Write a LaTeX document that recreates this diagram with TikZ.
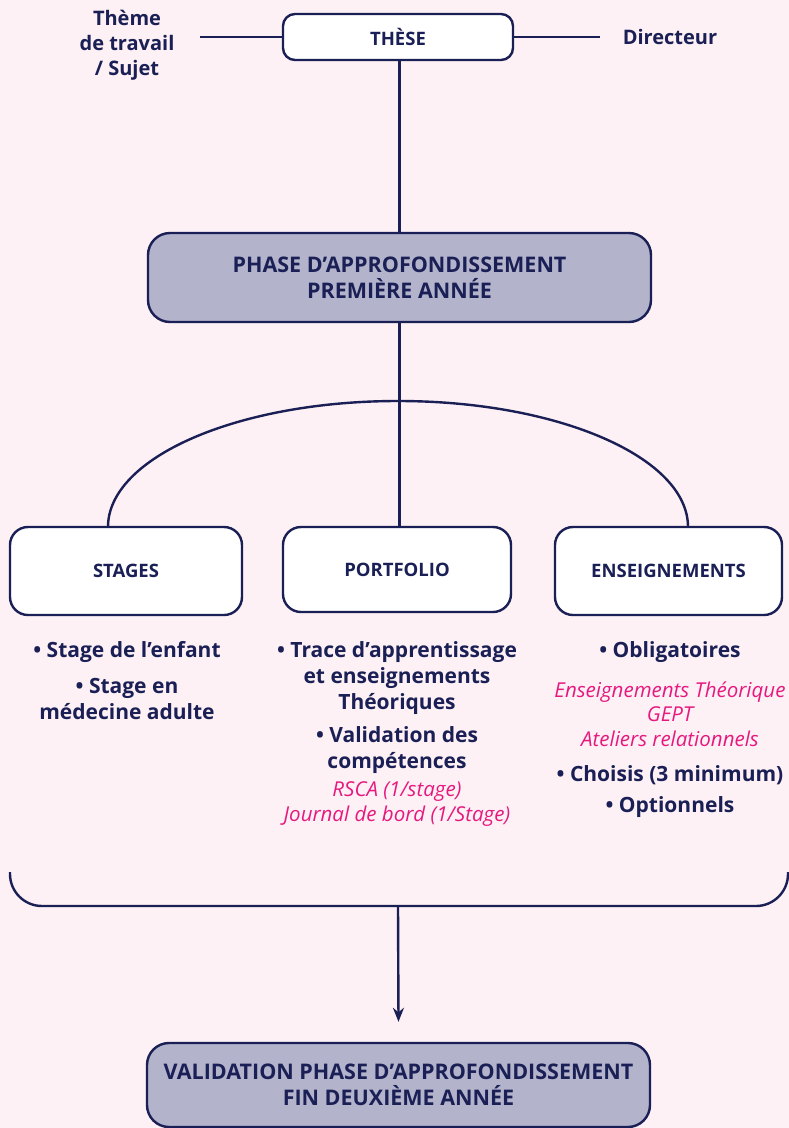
\documentclass[tikz,border=0pt]{standalone}
\usepackage{fontspec}
\setmainfont{Open Sans}
\usetikzlibrary{arrows.meta}
\definecolor{bgpink}{HTML}{FDF1F5}
\definecolor{navy}{HTML}{1A1F55}
\definecolor{lav}{HTML}{B3B3CB}
\definecolor{rose}{HTML}{E6197E}
\tikzset{
  link/.style={draw=navy, line width=2.4pt},
  box/.style={draw=navy, line width=2.4pt, fill=white, align=center,
    text=navy, font=\bfseries\fontsize{18.5}{22}\selectfont, inner sep=0pt},
  phasebox/.style={draw=navy, line width=2.4pt, fill=lav, rounded corners=22pt,
    align=center, text=navy, font=\bfseries\fontsize{21.5}{26}\selectfont, inner sep=0pt},
  side/.style={align=center, text=navy, font=\bfseries\fontsize{20}{25}\selectfont},
  item/.style={align=center, text=navy, font=\bfseries\fontsize{21}{26}\selectfont, inner sep=0pt},
  note/.style={align=center, text=rose, font=\itshape\fontsize{20.5}{24.5}\selectfont, inner sep=0pt}
}
\begin{document}
\begin{tikzpicture}[x=1pt,y=-1pt]
  % page
  \fill[bgpink] (0,0) rectangle (789,1128);
  \useasboundingbox (0,0) rectangle (789,1128);

  % top: thesis and its two neighbours
  \node[box, rounded corners=12pt, minimum width=230pt, minimum height=46pt] (these) at (398,37) {THÈSE};
  \node[side] (theme) at (127,45) {Thème\\de travail\\/ Sujet};
  \node[side] (dir) at (670,37) {Directeur};
  \coordinate (themeEnd) at (200,37);
  \coordinate (dirEnd) at (600,37);
  \draw[link] (themeEnd) -- (these.west);
  \draw[link] (these.east) -- (dirEnd);

  % first-year phase
  \node[phasebox, minimum width=503pt, minimum height=89pt] (phase) at (399.5,277.5)
    {PHASE D’APPROFONDISSEMENT\\PREMIÈRE ANNÉE};
  \draw[link] (these.south -| phase.north) -- (phase.north);

  % three branches
  \node[box, rounded corners=18pt, minimum width=232pt, minimum height=88pt] (stages) at (126,571) {STAGES};
  \node[box, rounded corners=18pt, minimum width=228pt, minimum height=85pt] (portfolio) at (397,569.5) {PORTFOLIO};
  \node[box, rounded corners=18pt, minimum width=227pt, minimum height=88pt] (enseign) at (668.5,571) {ENSEIGNEMENTS};
  \draw[link] (phase.south) -- (phase.south |- portfolio.north);
  \coordinate (arcL) at (108,527);
  \draw[link] (arcL) arc[start angle=180, end angle=0, x radius=290pt, y radius=126pt];

  % contents of each branch
  \node[item] (s1) at (127,652) {• Stage de l’enfant};
  \node[item] (s2) at (127,699) {• Stage en\\médecine adulte};

  \node[item] (p1) at (397,678) {• Trace d’apprentissage\\et enseignements\\Théoriques};
  \node[item] (p2) at (397,750) {• Validation des\\compétences};
  \node[note] (p3) at (397,804) {RSCA (1/stage)\\Journal de bord (1/Stage)};

  \node[item] (e1) at (670,652) {• Obligatoires};
  \node[note] (e2) at (670,714) {Enseignements Théorique\\GEPT\\Ateliers relationnels};
  \node[item] (e3) at (670,775) {• Choisis (3 minimum)};
  \node[item] (e4) at (670,807) {• Optionnels};

  % closing bracket and final step
  \coordinate (brL) at (10,872);
  \coordinate (brR) at (788,872);
  \coordinate (brMid) at (398,906);
  \draw[link, rounded corners=32pt] (brL) -- (10,906) -- (788,906) -- (brR);
  \node[phasebox, minimum width=503pt, minimum height=84pt] (valid) at (398.5,1085)
    {VALIDATION PHASE D’APPROFONDISSEMENT\\FIN DEUXIÈME ANNÉE};
  \draw[link, -{Stealth[length=14pt, width=11pt]}] (brMid) -- ([yshift=20pt]valid.north);
\end{tikzpicture}
\end{document}
